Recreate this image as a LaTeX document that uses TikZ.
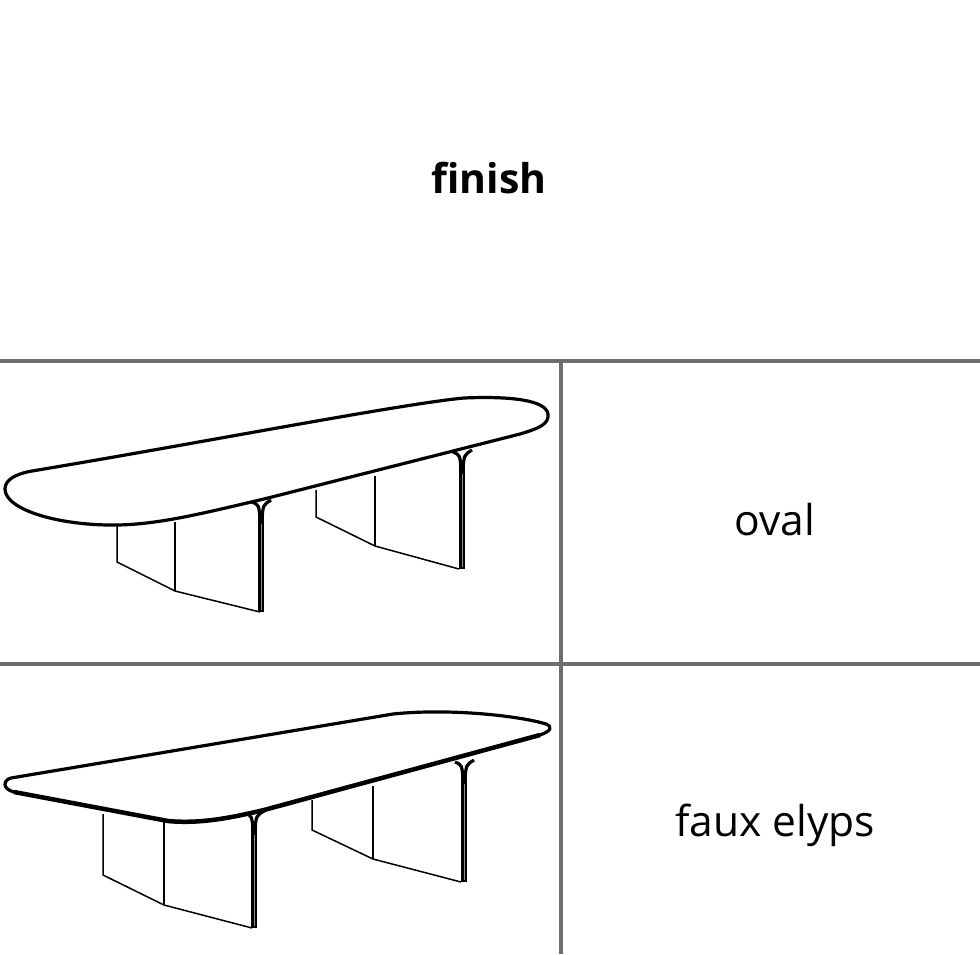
\documentclass[tikz,border=0pt]{standalone}
\usepackage{fontspec}
\setmainfont{Open Sans}
\newcommand{\pillar}[3]{%
  \draw[leg] (#1,#2+14) -- (#1,#3);
  \draw[flare] (#1-9,#2) .. controls (#1-2,#2+3) .. (#1-1,#2+18);
  \draw[flare] (#1+10,#2-2) .. controls (#1+2,#2+3) .. (#1+1,#2+18);
  \draw[black!45,line width=0.6pt] (#1+0.6,#2+22) -- (#1+0.6,#3-2);
}
\begin{document}
\begin{tikzpicture}[x=1pt,y=-1pt,
  divider/.style={draw=black!57,line width=4pt},
  label/.style={font=\fontsize{42.5}{50}\selectfont},
  top/.style={line width=3.2pt,line join=round},
  panel/.style={line width=1.5pt},
  leg/.style={line width=5.5pt},
  flare/.style={line width=3.2pt}]
  \useasboundingbox (0,0) rectangle (980,954);
  \node[label,font=\fontsize{41}{48}\selectfont\bfseries] (title) at (489,178) {finish};
  \node[label] (oval) at (775,520) {oval};
  \node[label] (faux) at (775,825) {faux elyps};
  \draw[divider] (0,361) -- (980,361);
  \draw[divider] (0,664) -- (980,664);
  \draw[divider] (561,361) -- (561,954);

  % oval table
  \draw[panel] (117,524) -- (117,562) -- (175,591) -- (260,612);
  \draw[panel] (175,522) -- (175,591);
  \draw[panel] (316,490) -- (316,517) -- (375,546) -- (459,569);
  \draw[panel] (375,476) -- (375,546);
  \draw[top,fill=white] (32,471) .. controls (200,443) and (400,404) .. (464,398)
    .. controls (510,396) and (546,400) .. (548,414)
    .. controls (549,424) and (540,428) .. (520,434)
    -- (264,499) .. controls (200,514) and (160,524) .. (118,525)
    .. controls (60,526) and (5,510) .. (5,489)
    .. controls (5,480) and (15,474) .. (32,471) -- cycle;
  \pillar{261}{502}{612}
  \pillar{462}{452}{569}

  % faux elyps table
  \draw[panel] (103,814) -- (103,875) -- (164,905) -- (252,928);
  \draw[panel] (164,821) -- (164,905);
  \draw[panel] (312,800) -- (312,830) -- (373,859) -- (461,882);
  \draw[panel] (373,786) -- (373,859);
  \draw[top,fill=white] (11,778) -- (393,714)
    .. controls (450,708) and (520,716) .. (546,724)
    .. controls (553,727) and (551,731) .. (540,735)
    -- (264,810) .. controls (230,818) and (200,824) .. (168,821)
    -- (14,792) .. controls (2,789) and (3,780) .. (11,778) -- cycle;
  \draw[line width=4.5pt] (540,735) -- (264,810) .. controls (230,818) and (200,824) .. (168,821) -- (14,792);
  \pillar{254}{813}{928}
  \pillar{464}{762}{882}
\end{tikzpicture}
\end{document}
